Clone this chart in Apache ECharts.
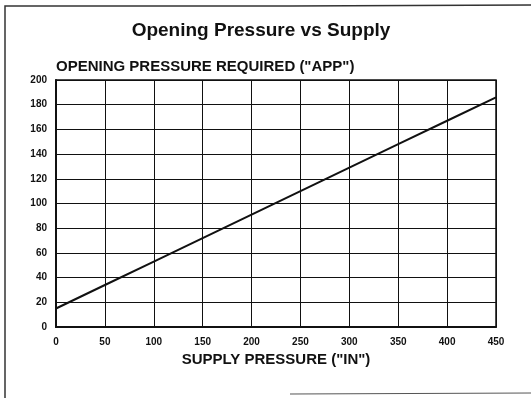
<!DOCTYPE html>
<html>
<head>
<meta charset="utf-8">
<script src="https://cdn.jsdelivr.net/npm/echarts@6/dist/echarts.min.js"></script>
<style>
  html, body { margin: 0; padding: 0; background: #fff; }
  #chart { width: 531px; height: 398px; }
</style>
</head>
<body>
<div id="chart"></div>
<script>
// Supply pressure (inches) and the opening pressure it requires
const supplyPressure = [0, 50, 100, 150, 200, 250, 300, 350, 400, 450];
const openingPressure = [15, 34, 53, 72, 91, 110, 129, 148, 167, 186];

const xTicks = [0, 50, 100, 150, 200, 250, 300, 350, 400, 450];
const yTicks = [0, 20, 40, 60, 80, 100, 120, 140, 160, 180, 200];

const font = '"Liberation Sans", Arial, Helvetica, sans-serif';
const ink = '#111';

const chart = echarts.init(document.getElementById('chart'), null, { renderer: 'canvas' });

chart.setOption({
  backgroundColor: '#fff',
  animation: false,
  title: {
    text: 'Opening Pressure vs Supply',
    left: 256, top: 16, textAlign: 'center',
    textStyle: { fontFamily: font, fontWeight: 'bold', fontSize: 19, color: ink }
  },
  grid: { left: 56, right: 35, top: 80, bottom: 71 },
  xAxis: {
    type: 'value',
    min: xTicks[0], max: xTicks[xTicks.length - 1], interval: 50,
    name: 'SUPPLY PRESSURE ("IN")',
    nameLocation: 'middle', nameGap: 24,
    nameTextStyle: { fontFamily: font, fontWeight: 'bold', fontSize: 15, color: ink },
    axisLine: { show: true, lineStyle: { color: ink, width: 2 } },
    axisTick: { show: false },
    axisLabel: { fontFamily: font, fontWeight: 'bold', fontSize: 10, color: ink, margin: 10 },
    splitLine: { show: true, lineStyle: { color: ink, width: 1 } }
  },
  yAxis: {
    type: 'value',
    min: yTicks[0], max: yTicks[yTicks.length - 1], interval: 20,
    name: 'OPENING PRESSURE REQUIRED ("APP")',
    nameLocation: 'end', nameGap: 6,
    nameTextStyle: { fontFamily: font, fontWeight: 'bold', fontSize: 15, color: ink, align: 'left', padding: [0, 0, 0, 0] },
    axisLine: { show: true, lineStyle: { color: ink, width: 2 } },
    axisTick: { show: false },
    axisLabel: { fontFamily: font, fontWeight: 'bold', fontSize: 10, color: ink, margin: 9 },
    splitLine: { show: true, lineStyle: { color: ink, width: 1 } }
  },
  series: [{
    type: 'line',
    data: supplyPressure.map((s, i) => [s, openingPressure[i]]),
    symbol: 'none',
    lineStyle: { color: ink, width: 2 },
    clip: false
  }],
  graphic: [
    // plot frame on the right and top edges
    { type: 'rect', shape: { x: 56, y: 80, width: 440, height: 247 },
      style: { fill: null, stroke: ink, lineWidth: 1.5 }, silent: true },
    // outer page frame
    { type: 'polyline', shape: { points: [[5, 398], [5, 6], [290, 6], [531, 5]] },
      style: { fill: null, stroke: '#333', lineWidth: 1.5 }, silent: true },
    { type: 'line', shape: { x1: 290, y1: 394, x2: 531, y2: 393 },
      style: { stroke: '#555', lineWidth: 1 }, silent: true }
  ]
});
</script>
</body>
</html>
